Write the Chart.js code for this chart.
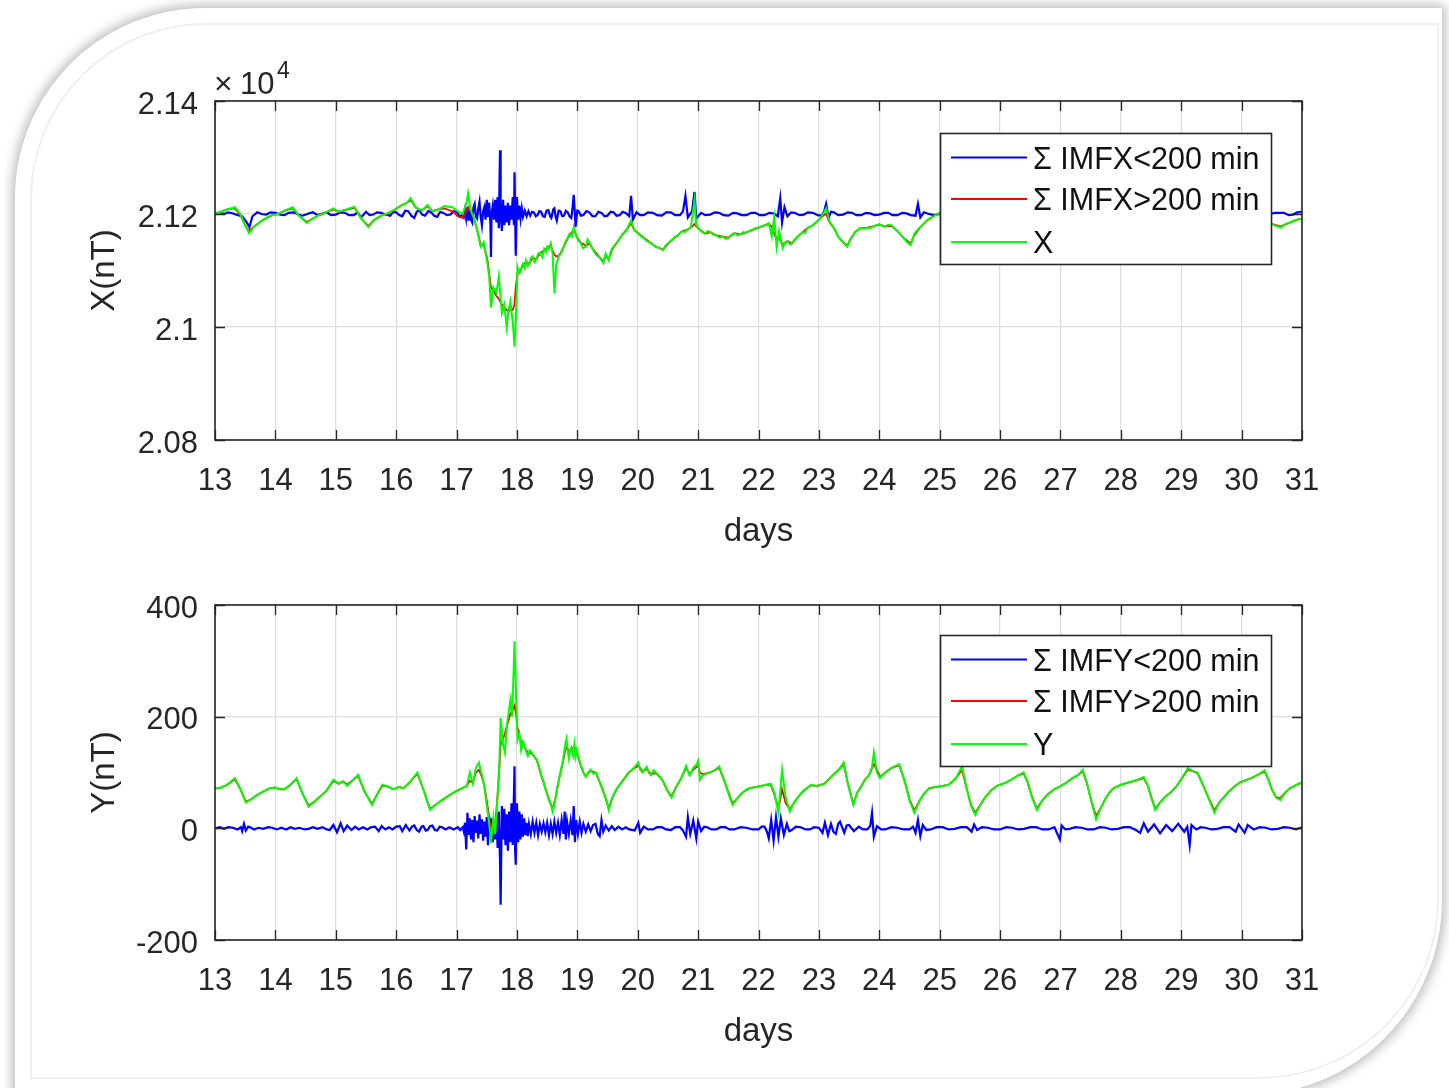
<!DOCTYPE html>
<html><head><meta charset="utf-8">
<script src="https://cdn.jsdelivr.net/npm/chart.js@4.4.1/dist/chart.umd.min.js"></script>
<style>
html,body{margin:0;padding:0;background:#fff;width:1449px;height:1088px;overflow:hidden;}
#card{position:absolute;left:15px;top:8px;width:1427px;height:1087px;background:#fff;border-radius:190px 0 195px 0;box-shadow:0 0 12px 3px rgba(0,0,0,0.28);}
#inner{position:absolute;left:30px;top:23px;width:1405px;height:1052px;border:2px solid #efefef;border-radius:176px 0 180px 0;}
canvas{position:absolute;left:0;}
</style></head><body>
<div id="card"></div><div id="inner"></div>
<canvas id="c1" width="1449" height="560" style="top:0px"></canvas>
<canvas id="c2" width="1449" height="500" style="top:560px"></canvas>
<script>
// ---- tick values / labels ----
const xTickValues = [13,14,15,16,17,18,19,20,21,22,23,24,25,26,27,28,29,30,31];
const xTickLabels = ['13','14','15','16','17','18','19','20','21','22','23','24','25','26','27','28','29','30','31'];
const yTickValuesX = [20800,21000,21200,21400];
const yTickLabelsX = ['2.08','2.1','2.12','2.14'];
const yTickValuesY = [-200,0,200,400];
const yTickLabelsY = ['-200','0','200','400'];
const legendLabelsX = ['\u03A3 IMFX<200 min','\u03A3 IMFX>200 min','X'];
const legendLabelsY = ['\u03A3 IMFY<200 min','\u03A3 IMFY>200 min','Y'];

// ---- series: [day, value] ----
const xGreen = [[13.00,21200],[13.10,21204],[13.20,21208],[13.33,21212],[13.42,21200],[13.50,21180],[13.565,21166],[13.65,21178],[13.75,21186],[13.85,21193],[13.95,21198],[14.05,21200],[14.15,21206],[14.29,21212],[14.38,21198],[14.52,21184],[14.62,21192],[14.72,21198],[14.82,21202],[14.96,21210],[15.05,21204],[15.15,21207],[15.31,21213],[15.42,21192],[15.54,21177],[15.64,21190],[15.77,21198],[15.88,21202],[15.98,21208],[16.08,21215],[16.18,21220],[16.24,21228],[16.32,21212],[16.42,21206],[16.52,21216],[16.60,21205],[16.70,21208],[16.80,21214],[16.93,21212],[17.02,21205],[17.10,21200],[17.16,21218],[17.19,21237],[17.23,21208],[17.28,21195],[17.34,21172],[17.40,21142],[17.45,21150],[17.51,21113],[17.54,21090],[17.57,21035],[17.61,21070],[17.66,21060],[17.70,21090],[17.75,21025],[17.79,21040],[17.83,21000],[17.86,21030],[17.89,21045],[17.93,21010],[17.96,20965],[17.98,21010],[18.01,21106],[18.04,21095],[18.06,21098],[18.08,21108],[18.10,21112],[18.13,21104],[18.15,21118],[18.18,21108],[18.20,21110],[18.23,21122],[18.26,21125],[18.29,21115],[18.32,21120],[18.35,21130],[18.38,21132],[18.42,21124],[18.45,21138],[18.48,21132],[18.50,21142],[18.53,21138],[18.56,21148],[18.59,21130],[18.62,21060],[18.65,21110],[18.69,21125],[18.73,21130],[18.77,21142],[18.80,21150],[18.84,21158],[18.87,21165],[18.91,21160],[18.94,21177],[18.99,21160],[19.02,21152],[19.05,21150],[19.09,21140],[19.14,21142],[19.17,21155],[19.20,21150],[19.24,21140],[19.27,21135],[19.31,21128],[19.35,21125],[19.39,21120],[19.43,21113],[19.47,21130],[19.52,21118],[19.55,21132],[19.58,21140],[19.62,21145],[19.66,21150],[19.71,21158],[19.75,21165],[19.79,21168],[19.83,21175],[19.89,21189],[19.94,21172],[19.98,21168],[20.02,21165],[20.06,21160],[20.10,21158],[20.15,21152],[20.20,21150],[20.25,21146],[20.30,21142],[20.36,21140],[20.42,21136],[20.46,21144],[20.50,21148],[20.54,21152],[20.58,21155],[20.62,21160],[20.66,21162],[20.70,21166],[20.74,21170],[20.78,21168],[20.82,21172],[20.88,21177],[20.94,21224],[20.97,21180],[21.00,21176],[21.03,21172],[21.07,21168],[21.12,21165],[21.16,21170],[21.20,21168],[21.25,21164],[21.30,21162],[21.36,21158],[21.41,21160],[21.46,21156],[21.50,21158],[21.55,21163],[21.60,21166],[21.65,21162],[21.70,21164],[21.75,21168],[21.79,21167],[21.85,21170],[21.90,21172],[21.95,21175],[22.00,21176],[22.05,21178],[22.10,21180],[22.17,21184],[22.22,21160],[22.26,21195],[22.30,21142],[22.34,21170],[22.40,21140],[22.44,21150],[22.48,21152],[22.52,21146],[22.55,21148],[22.60,21155],[22.65,21160],[22.73,21168],[22.77,21166],[22.81,21175],[22.86,21178],[22.90,21180],[22.95,21185],[23.00,21190],[23.04,21196],[23.08,21202],[23.12,21210],[23.18,21185],[23.25,21175],[23.32,21160],[23.40,21150],[23.47,21142],[23.52,21155],[23.56,21162],[23.60,21168],[23.65,21172],[23.69,21175],[23.75,21174],[23.80,21176],[23.85,21175],[23.90,21178],[24.00,21182],[24.05,21179],[24.10,21178],[24.15,21181],[24.20,21180],[24.30,21170],[24.40,21158],[24.46,21150],[24.52,21145],[24.58,21165],[24.62,21170],[24.66,21175],[24.71,21180],[24.76,21186],[24.80,21190],[24.85,21193],[24.90,21196],[24.96,21200],[25.10,21208],[25.25,21204],[25.40,21190],[25.55,21175],[25.70,21192],[25.85,21205],[26.00,21210],[26.20,21206],[26.40,21195],[26.55,21180],[26.70,21195],[26.90,21205],[27.10,21212],[27.30,21205],[27.45,21190],[27.60,21175],[27.75,21195],[27.95,21205],[28.15,21210],[28.35,21200],[28.50,21185],[28.65,21178],[28.80,21195],[29.00,21205],[29.20,21210],[29.40,21195],[29.55,21178],[29.70,21190],[29.90,21200],[30.10,21205],[30.30,21195],[30.45,21185],[30.54,21180],[30.65,21176],[30.72,21182],[30.80,21185],[30.86,21188],[30.92,21190],[31.00,21192]];

const xRed = [[13.00,21200],[13.10,21204],[13.20,21208],[13.33,21210],[13.42,21198],[13.50,21180],[13.565,21170],[13.65,21178],[13.75,21186],[13.85,21193],[13.95,21198],[14.05,21200],[14.15,21206],[14.29,21210],[14.38,21198],[14.52,21186],[14.62,21192],[14.72,21198],[14.82,21202],[14.96,21208],[15.05,21204],[15.15,21207],[15.31,21211],[15.42,21192],[15.54,21179],[15.64,21190],[15.77,21198],[15.88,21202],[15.98,21208],[16.08,21215],[16.18,21220],[16.24,21225],[16.32,21212],[16.42,21206],[16.52,21214],[16.60,21205],[16.70,21208],[16.80,21210],[16.93,21205],[17.02,21196],[17.10,21193],[17.16,21205],[17.19,21212],[17.23,21205],[17.28,21195],[17.34,21172],[17.40,21145],[17.45,21145],[17.51,21120],[17.54,21095],[17.57,21070],[17.61,21065],[17.66,21055],[17.70,21050],[17.75,21040],[17.79,21035],[17.83,21030],[17.86,21028],[17.89,21030],[17.93,21030],[17.96,21040],[17.98,21070],[18.01,21095],[18.06,21100],[18.10,21110],[18.15,21115],[18.20,21112],[18.26,21122],[18.32,21120],[18.38,21130],[18.45,21136],[18.50,21140],[18.56,21145],[18.59,21135],[18.62,21128],[18.65,21125],[18.69,21126],[18.73,21132],[18.80,21148],[18.87,21162],[18.94,21172],[18.99,21160],[19.05,21150],[19.14,21144],[19.20,21148],[19.27,21136],[19.35,21126],[19.43,21116],[19.47,21125],[19.52,21120],[19.58,21138],[19.66,21150],[19.75,21164],[19.83,21174],[19.89,21184],[19.94,21172],[20.02,21165],[20.10,21158],[20.20,21150],[20.30,21142],[20.42,21137],[20.50,21147],[20.58,21155],[20.66,21162],[20.74,21170],[20.82,21172],[20.88,21176],[20.94,21182],[20.97,21178],[21.03,21172],[21.12,21165],[21.20,21168],[21.30,21162],[21.41,21160],[21.50,21158],[21.60,21166],[21.70,21164],[21.79,21167],[21.90,21172],[22.00,21176],[22.10,21180],[22.17,21182],[22.22,21178],[22.26,21165],[22.30,21155],[22.34,21158],[22.40,21146],[22.48,21152],[22.55,21148],[22.65,21160],[22.73,21168],[22.81,21175],[22.90,21180],[23.00,21190],[23.08,21198],[23.12,21200],[23.18,21185],[23.25,21175],[23.32,21160],[23.40,21150],[23.47,21144],[23.52,21155],[23.60,21168],[23.69,21175],[23.80,21176],[23.90,21178],[24.00,21181],[24.10,21178],[24.20,21179],[24.30,21170],[24.40,21158],[24.52,21148],[24.58,21162],[24.66,21174],[24.71,21180],[24.80,21189],[24.90,21196],[24.96,21200],[25.10,21207],[25.25,21204],[25.40,21190],[25.55,21177],[25.70,21192],[25.85,21205],[26.00,21209],[26.20,21206],[26.40,21195],[26.55,21182],[26.70,21195],[26.90,21205],[27.10,21211],[27.30,21205],[27.45,21190],[27.60,21177],[27.75,21195],[27.95,21205],[28.15,21209],[28.35,21200],[28.50,21185],[28.65,21180],[28.80,21195],[29.00,21205],[29.20,21209],[29.40,21195],[29.55,21180],[29.70,21190],[29.90,21200],[30.10,21204],[30.30,21195],[30.45,21185],[30.54,21181],[30.65,21178],[30.80,21185],[30.92,21190],[31.00,21192]];

const xBlue = [[13.00,21200],[13.08,21203],[13.15,21200],[13.22,21203],[13.30,21201],[13.38,21198],[13.45,21196],[13.52,21186],[13.57,21177],[13.62,21196],[13.70,21203],[13.77,21200],[13.85,21199],[13.92,21203],[14.00,21202],[14.08,21199],[14.15,21198],[14.22,21202],[14.30,21203],[14.38,21199],[14.45,21197],[14.55,21201],[14.62,21203],[14.70,21198],[14.78,21201],[14.85,21203],[14.92,21198],[15.00,21199],[15.08,21203],[15.15,21202],[15.22,21198],[15.30,21198],[15.36,21203],[15.42,21194],[15.50,21204],[15.56,21198],[15.62,21199],[15.68,21203],[15.75,21202],[15.82,21199],[15.90,21197],[15.95,21204],[16.00,21203],[16.05,21198],[16.10,21196],[16.15,21206],[16.20,21205],[16.25,21197],[16.30,21193],[16.34,21204],[16.38,21207],[16.43,21199],[16.48,21197],[16.53,21205],[16.58,21203],[16.63,21197],[16.68,21195],[16.73,21204],[16.78,21202],[16.84,21198],[16.90,21199],[16.95,21205],[17.00,21204],[17.05,21196],[17.08,21197],[17.10,21200],[17.12,21195],[17.14,21208],[17.16,21192],[17.18,21212],[17.20,21188],[17.22,21215],[17.24,21190],[17.26,21185],[17.28,21212],[17.30,21218],[17.32,21195],[17.34,21192],[17.36,21210],[17.38,21222],[17.40,21195],[17.42,21180],[17.44,21205],[17.46,21212],[17.48,21190],[17.50,21225],[17.52,21195],[17.54,21220],[17.56,21185],[17.57,21124],[17.58,21200],[17.60,21215],[17.62,21190],[17.64,21225],[17.66,21185],[17.68,21230],[17.70,21175],[17.71,21250],[17.72,21313],[17.73,21200],[17.75,21170],[17.77,21225],[17.79,21180],[17.81,21215],[17.83,21185],[17.85,21220],[17.87,21180],[17.89,21215],[17.91,21190],[17.93,21230],[17.95,21180],[17.96,21274],[17.97,21200],[17.98,21126],[18.00,21230],[18.02,21190],[18.04,21215],[18.06,21192],[18.08,21210],[18.10,21195],[18.13,21206],[18.16,21196],[18.19,21205],[18.22,21197],[18.25,21204],[18.28,21203],[18.31,21196],[18.34,21198],[18.37,21205],[18.40,21204],[18.43,21196],[18.46,21195],[18.49,21206],[18.52,21207],[18.55,21196],[18.57,21193],[18.60,21208],[18.62,21210],[18.64,21195],[18.66,21188],[18.69,21206],[18.72,21205],[18.75,21196],[18.78,21197],[18.81,21206],[18.84,21203],[18.87,21196],[18.90,21193],[18.92,21210],[18.94,21234],[18.96,21200],[18.97,21177],[19.00,21206],[19.02,21205],[19.06,21197],[19.10,21198],[19.15,21205],[19.20,21203],[19.25,21196],[19.30,21196],[19.35,21204],[19.40,21202],[19.45,21196],[19.50,21197],[19.55,21204],[19.60,21203],[19.65,21197],[19.70,21198],[19.75,21204],[19.80,21202],[19.86,21196],[19.89,21232],[19.92,21190],[19.98,21203],[20.04,21198],[20.10,21198],[20.17,21203],[20.25,21202],[20.32,21198],[20.40,21197],[20.47,21203],[20.55,21203],[20.62,21198],[20.70,21198],[20.75,21205],[20.79,21232],[20.83,21194],[20.90,21205],[20.94,21239],[20.97,21192],[21.05,21202],[21.12,21198],[21.20,21199],[21.28,21203],[21.35,21202],[21.42,21198],[21.50,21197],[21.58,21202],[21.65,21201],[21.72,21198],[21.80,21198],[21.88,21202],[21.95,21202],[22.02,21198],[22.10,21198],[22.18,21202],[22.25,21201],[22.32,21196],[22.36,21228],[22.39,21185],[22.43,21212],[22.48,21196],[22.54,21203],[22.60,21202],[22.68,21198],[22.75,21199],[22.82,21203],[22.90,21202],[22.98,21198],[23.05,21197],[23.09,21206],[23.12,21218],[23.16,21193],[23.20,21204],[23.25,21203],[23.32,21198],[23.40,21199],[23.48,21203],[23.55,21202],[23.62,21198],[23.70,21198],[23.78,21202],[23.85,21201],[23.92,21198],[24.00,21199],[24.08,21202],[24.15,21202],[24.22,21198],[24.30,21198],[24.38,21202],[24.45,21201],[24.52,21198],[24.60,21197],[24.64,21218],[24.68,21194],[24.74,21203],[24.80,21201],[24.90,21198],[25.00,21200],[25.30,21202],[25.60,21199],[25.90,21202],[26.20,21198],[26.50,21201],[26.80,21199],[27.10,21202],[27.40,21198],[27.70,21201],[28.00,21199],[28.30,21202],[28.60,21198],[28.90,21201],[29.20,21199],[29.50,21202],[29.80,21198],[30.10,21201],[30.40,21199],[30.55,21202],[30.70,21202],[30.78,21198],[30.85,21199],[30.92,21203],[31.00,21204]];

const yGreen = [[13.00,72],[13.10,73],[13.20,78],[13.33,90],[13.42,70],[13.51,46],[13.60,52],[13.70,60],[13.80,66],[13.91,72],[14.00,73],[14.08,70],[14.15,70],[14.25,78],[14.35,90],[14.45,62],[14.55,39],[14.65,48],[14.75,58],[14.85,68],[14.96,87],[15.05,80],[15.12,84],[15.19,76],[15.28,86],[15.37,96],[15.48,65],[15.60,42],[15.68,60],[15.77,78],[15.86,75],[15.95,70],[16.05,74],[16.12,72],[16.22,82],[16.35,100],[16.45,70],[16.56,33],[16.65,42],[16.75,50],[16.82,55],[16.92,62],[17.02,68],[17.10,72],[17.17,76],[17.22,100],[17.27,80],[17.32,108],[17.37,118],[17.42,95],[17.46,76],[17.50,40],[17.54,10],[17.57,-26],[17.61,20],[17.64,-10],[17.68,60],[17.71,120],[17.73,198],[17.77,150],[17.80,136],[17.84,190],[17.89,230],[17.92,200],[17.96,335],[17.99,220],[18.01,159],[18.04,170],[18.07,140],[18.10,155],[18.12,150],[18.15,138],[18.18,130],[18.21,140],[18.25,135],[18.29,128],[18.33,123],[18.37,108],[18.40,95],[18.44,85],[18.47,70],[18.50,62],[18.53,50],[18.56,45],[18.59,30],[18.62,42],[18.64,55],[18.67,75],[18.70,90],[18.73,105],[18.76,120],[18.78,135],[18.80,150],[18.82,160],[18.84,140],[18.86,125],[18.88,140],[18.90,145],[18.93,130],[18.95,150],[18.97,128],[18.99,140],[19.02,125],[19.05,115],[19.08,108],[19.10,100],[19.14,92],[19.18,100],[19.22,105],[19.26,98],[19.31,100],[19.35,88],[19.38,80],[19.42,70],[19.45,60],[19.49,48],[19.52,33],[19.55,45],[19.58,55],[19.62,65],[19.66,72],[19.70,78],[19.75,85],[19.80,92],[19.85,100],[19.90,104],[19.95,110],[20.01,118],[20.04,105],[20.08,100],[20.12,106],[20.15,110],[20.18,100],[20.22,95],[20.26,104],[20.30,100],[20.35,94],[20.40,88],[20.44,80],[20.48,70],[20.52,62],[20.56,55],[20.60,65],[20.64,75],[20.68,82],[20.72,90],[20.76,100],[20.80,112],[20.83,102],[20.86,95],[20.90,104],[20.93,110],[20.97,114],[21.00,121],[21.03,87],[21.06,92],[21.08,95],[21.14,98],[21.20,100],[21.27,104],[21.35,111],[21.40,95],[21.45,80],[21.51,60],[21.57,42],[21.62,50],[21.66,55],[21.70,60],[21.75,65],[21.80,70],[21.85,72],[21.95,74],[22.05,76],[22.12,78],[22.20,80],[22.26,65],[22.33,28],[22.39,105],[22.45,55],[22.52,30],[22.56,40],[22.60,48],[22.65,55],[22.70,62],[22.75,68],[22.80,72],[22.87,78],[22.97,76],[23.09,80],[23.14,85],[23.18,90],[23.23,95],[23.28,100],[23.35,108],[23.41,118],[23.48,80],[23.57,42],[23.64,65],[23.70,75],[23.76,87],[23.83,95],[23.88,110],[23.91,136],[23.96,100],[24.01,90],[24.06,96],[24.10,100],[24.15,104],[24.20,108],[24.27,112],[24.33,115],[24.42,85],[24.50,50],[24.58,28],[24.66,48],[24.74,62],[24.83,72],[24.93,74],[25.05,76],[25.15,78],[25.27,90],[25.37,111],[25.45,70],[25.52,40],[25.59,24],[25.66,40],[25.75,55],[25.85,68],[25.95,76],[26.10,82],[26.20,88],[26.30,95],[26.39,100],[26.45,85],[26.53,55],[26.61,33],[26.70,50],[26.80,62],[26.90,70],[26.99,75],[27.10,82],[27.20,90],[27.30,96],[27.37,105],[27.44,80],[27.52,45],[27.59,16],[27.66,35],[27.74,52],[27.81,64],[27.88,72],[28.00,78],[28.12,82],[28.25,86],[28.38,92],[28.45,75],[28.52,50],[28.57,33],[28.64,45],[28.72,55],[28.83,65],[28.92,75],[29.00,88],[29.11,108],[29.20,102],[29.27,100],[29.36,78],[29.46,52],[29.55,28],[29.62,45],[29.70,55],[29.78,65],[29.88,75],[29.97,82],[30.06,86],[30.16,90],[30.27,96],[30.38,104],[30.44,88],[30.50,70],[30.57,55],[30.64,51],[30.72,64],[30.80,72],[30.88,76],[30.95,80],[31.00,82]];

const yRed = [[13.00,72],[13.10,73],[13.20,78],[13.33,88],[13.42,70],[13.51,48],[13.60,52],[13.70,60],[13.80,66],[13.91,72],[14.00,73],[14.08,70],[14.15,70],[14.25,78],[14.35,88],[14.45,62],[14.55,41],[14.65,48],[14.75,58],[14.85,68],[14.96,85],[15.05,80],[15.12,84],[15.19,78],[15.28,86],[15.37,94],[15.48,65],[15.60,44],[15.68,60],[15.77,76],[15.86,75],[15.95,70],[16.05,74],[16.12,72],[16.22,82],[16.35,98],[16.45,70],[16.56,35],[16.65,42],[16.75,50],[16.82,55],[16.92,62],[17.02,68],[17.10,72],[17.17,76],[17.22,85],[17.27,82],[17.32,100],[17.37,105],[17.42,92],[17.46,76],[17.50,50],[17.54,20],[17.57,-5],[17.61,10],[17.64,5],[17.68,60],[17.71,110],[17.73,150],[17.77,160],[17.80,170],[17.84,185],[17.89,205],[17.92,210],[17.96,220],[17.99,200],[18.01,180],[18.04,165],[18.07,155],[18.12,148],[18.18,135],[18.25,134],[18.33,122],[18.40,96],[18.47,72],[18.53,52],[18.59,34],[18.64,55],[18.70,90],[18.76,118],[18.80,140],[18.82,145],[18.86,138],[18.90,142],[18.95,145],[18.99,138],[19.05,115],[19.10,100],[19.14,94],[19.22,103],[19.31,99],[19.38,80],[19.45,60],[19.52,36],[19.58,55],[19.66,72],[19.75,85],[19.85,100],[19.95,108],[20.01,112],[20.08,102],[20.15,106],[20.22,97],[20.30,99],[20.40,88],[20.48,70],[20.56,57],[20.64,75],[20.72,90],[20.80,108],[20.86,98],[20.93,106],[21.00,112],[21.03,100],[21.08,97],[21.20,100],[21.35,108],[21.45,80],[21.57,45],[21.66,55],[21.75,65],[21.85,72],[21.95,74],[22.05,76],[22.12,78],[22.20,78],[22.26,62],[22.33,35],[22.39,70],[22.45,45],[22.52,34],[22.60,48],[22.70,62],[22.80,72],[22.87,77],[22.97,76],[23.09,80],[23.18,90],[23.28,100],[23.35,107],[23.41,115],[23.48,80],[23.57,45],[23.64,65],[23.70,75],[23.76,87],[23.83,95],[23.91,115],[23.96,105],[24.01,92],[24.10,100],[24.20,108],[24.33,113],[24.42,85],[24.50,52],[24.58,32],[24.66,48],[24.74,62],[24.83,72],[24.93,74],[25.05,76],[25.15,78],[25.27,90],[25.37,105],[25.45,70],[25.52,42],[25.59,28],[25.66,40],[25.75,55],[25.85,68],[25.95,76],[26.10,82],[26.20,88],[26.30,95],[26.39,98],[26.45,85],[26.53,56],[26.61,36],[26.70,50],[26.80,62],[26.90,70],[26.99,75],[27.10,82],[27.20,90],[27.30,96],[27.37,102],[27.44,80],[27.52,46],[27.59,22],[27.66,35],[27.74,52],[27.81,64],[27.88,72],[28.00,78],[28.12,82],[28.25,86],[28.38,90],[28.45,75],[28.52,51],[28.57,36],[28.64,45],[28.72,55],[28.83,65],[28.92,75],[29.00,88],[29.11,105],[29.20,102],[29.27,99],[29.36,78],[29.46,53],[29.55,32],[29.62,45],[29.70,55],[29.78,65],[29.88,75],[29.97,82],[30.06,86],[30.16,90],[30.27,96],[30.38,102],[30.44,88],[30.50,70],[30.57,56],[30.64,54],[30.72,64],[30.80,72],[30.88,76],[30.95,80],[31.00,81]];

const yBlue = [[13.00,0],[13.08,2],[13.15,-1],[13.22,2],[13.30,1],[13.37,-2],[13.43,2],[13.45,-5],[13.48,8],[13.51,-4],[13.55,3],[13.58,2],[13.65,-2],[13.72,1],[13.80,-1],[13.88,2],[13.95,1],[14.02,-2],[14.10,1],[14.18,-2],[14.25,2],[14.32,-1],[14.40,1],[14.48,-2],[14.55,-1],[14.62,2],[14.70,-1],[14.78,2],[14.85,-2],[14.90,-3],[14.96,6],[15.02,-7],[15.08,9],[15.13,-5],[15.19,5],[15.26,-3],[15.32,3],[15.38,-2],[15.45,2],[15.52,-2],[15.58,2],[15.65,3],[15.71,-5],[15.76,4],[15.82,-2],[15.88,2],[15.94,-2],[16.00,3],[16.06,4],[16.10,-5],[16.16,6],[16.22,-4],[16.26,3],[16.30,5],[16.34,-3],[16.38,-6],[16.42,3],[16.45,4],[16.49,-4],[16.52,-3],[16.56,4],[16.60,5],[16.64,-3],[16.68,-4],[16.72,3],[16.76,2],[16.82,-2],[16.88,2],[16.95,-2],[17.02,2],[17.06,-3],[17.10,2],[17.12,-6],[17.14,10],[17.16,-38],[17.18,28],[17.20,-12],[17.22,18],[17.24,-20],[17.26,15],[17.28,-25],[17.30,22],[17.32,-8],[17.34,14],[17.36,-18],[17.38,25],[17.40,-10],[17.42,16],[17.44,-22],[17.46,12],[17.48,-15],[17.50,20],[17.52,-30],[17.54,22],[17.56,-12],[17.58,18],[17.60,-25],[17.62,15],[17.64,-20],[17.66,28],[17.68,-35],[17.70,30],[17.72,-60],[17.73,-137],[17.75,40],[17.77,-20],[17.79,35],[17.81,-30],[17.83,25],[17.85,-40],[17.87,30],[17.89,-25],[17.91,45],[17.93,-30],[17.95,60],[17.96,111],[17.97,-40],[17.98,-65],[18.00,45],[18.02,-25],[18.04,30],[18.06,-20],[18.08,25],[18.10,-15],[18.12,18],[18.14,-12],[18.16,10],[18.18,-14],[18.20,8],[18.23,-10],[18.26,12],[18.29,-8],[18.32,10],[18.35,-12],[18.38,8],[18.41,-6],[18.44,9],[18.47,-7],[18.50,10],[18.53,-12],[18.56,8],[18.59,-10],[18.62,12],[18.65,-8],[18.68,10],[18.71,-12],[18.74,15],[18.77,-10],[18.79,30],[18.81,-20],[18.83,12],[18.86,-10],[18.89,14],[18.92,-12],[18.94,40],[18.96,-25],[18.98,15],[19.01,-10],[19.04,12],[19.07,-8],[19.10,8],[19.14,-6],[19.18,7],[19.22,-5],[19.26,6],[19.30,8],[19.34,-10],[19.37,-14],[19.40,15],[19.43,-6],[19.47,5],[19.52,-4],[19.57,4],[19.62,-3],[19.68,3],[19.74,-2],[19.80,2],[19.86,-2],[19.95,-4],[20.01,10],[20.04,-8],[20.10,3],[20.17,-2],[20.25,-2],[20.32,2],[20.40,2],[20.47,-2],[20.55,-3],[20.62,2],[20.70,2],[20.75,-4],[20.80,-15],[20.83,20],[20.87,-10],[20.92,14],[20.97,-18],[21.00,12],[21.05,-5],[21.10,3],[21.15,2],[21.22,-2],[21.30,-2],[21.37,2],[21.45,2],[21.52,-2],[21.60,-2],[21.70,2],[21.80,1],[21.90,-2],[22.00,-2],[22.05,3],[22.10,3],[22.14,-6],[22.17,-18],[22.21,15],[22.25,-22],[22.29,20],[22.33,-15],[22.37,18],[22.42,-12],[22.47,8],[22.51,-5],[22.55,-3],[22.62,3],[22.70,2],[22.78,-2],[22.85,-2],[22.92,2],[23.00,1],[23.06,-8],[23.10,10],[23.15,-12],[23.20,8],[23.24,-6],[23.28,-10],[23.32,8],[23.35,12],[23.42,-8],[23.46,5],[23.50,6],[23.58,-5],[23.66,3],[23.73,-2],[23.80,-2],[23.85,4],[23.88,28],[23.91,-15],[23.96,4],[24.03,-2],[24.10,-2],[24.20,2],[24.30,1],[24.40,-2],[24.50,-2],[24.56,3],[24.60,-8],[24.64,15],[24.68,-14],[24.72,6],[24.78,-3],[24.85,-2],[24.95,2],[25.05,2],[25.15,-2],[25.25,-1],[25.35,2],[25.45,2],[25.53,-6],[25.57,7],[25.62,-3],[25.70,2],[25.80,1],[25.90,-2],[26.00,-2],[26.10,2],[26.20,1],[26.30,-2],[26.40,-1],[26.50,2],[26.60,2],[26.70,-2],[26.80,-2],[26.90,2],[26.99,-20],[27.02,5],[27.08,-2],[27.15,-1],[27.25,2],[27.35,1],[27.45,-2],[27.55,-2],[27.65,2],[27.75,1],[27.85,-2],[27.95,-1],[28.05,2],[28.15,2],[28.25,-3],[28.32,-8],[28.38,9],[28.45,-6],[28.55,7],[28.65,-9],[28.75,6],[28.85,-5],[28.95,8],[29.05,-6],[29.10,3],[29.14,-30],[29.17,6],[29.25,-2],[29.32,2],[29.40,1],[29.50,-2],[29.60,-1],[29.70,2],[29.80,2],[29.90,-6],[29.95,7],[30.05,-8],[30.10,6],[30.20,-2],[30.30,2],[30.40,1],[30.50,-2],[30.60,-1],[30.70,2],[30.80,1],[30.90,-2],[31.00,2]];

// ---- rendering ----
const FONT = "'Liberation Sans', Arial, Helvetica, sans-serif";
const INK = '#262626';
Chart.defaults.font.family = FONT;
Chart.defaults.color = INK;

const toPts = arr => arr.map(p => ({x: p[0], y: p[1]}));

const matlabAxes = {
  id: 'matlabAxes',
  afterDatasetsDraw(chart, args, opts) {
    const ctx = chart.ctx;
    const {left, right, top, bottom} = chart.chartArea;
    const xs = chart.scales.x, ys = chart.scales.y;
    ctx.save();
    ctx.strokeStyle = INK; ctx.lineWidth = 1.3;
    ctx.beginPath();
    opts.xTicks.forEach(v => {
      const px = Math.round(xs.getPixelForValue(v)) + 0.5;
      ctx.moveTo(px, bottom); ctx.lineTo(px, bottom - 10);
      ctx.moveTo(px, top); ctx.lineTo(px, top + 10);
    });
    opts.yTicks.forEach(v => {
      const py = Math.round(ys.getPixelForValue(v)) + 0.5;
      ctx.moveTo(left, py); ctx.lineTo(left + 10, py);
      ctx.moveTo(right, py); ctx.lineTo(right - 10, py);
    });
    ctx.stroke();
    // legend
    const lx = left + opts.legendDx, ly = top + opts.legendDy, lw = 331, lh = 131;
    ctx.fillStyle = '#fff';
    ctx.fillRect(lx, ly, lw, lh);
    ctx.lineWidth = 1.6; ctx.strokeStyle = INK;
    ctx.strokeRect(lx + 0.5, ly + 0.5, lw, lh);
    const rows = [24.5, 66, 109];
    const cols = ['#0000ff', '#ff0000', '#00ff00'];
    ctx.font = '30.5px ' + FONT;
    ctx.textBaseline = 'middle'; ctx.textAlign = 'left';
    rows.forEach((dy, i) => {
      ctx.strokeStyle = cols[i]; ctx.lineWidth = 2;
      ctx.beginPath(); ctx.moveTo(lx + 11, ly + dy); ctx.lineTo(lx + 87, ly + dy); ctx.stroke();
      ctx.fillStyle = '#111';
      ctx.fillText(opts.legend[i], lx + 93, ly + dy + 3);
    });
    // axes box
    ctx.strokeStyle = INK; ctx.lineWidth = 1.6;
    ctx.strokeRect(left, top, right - left, bottom - top);
    // exponent
    if (opts.exponent) {
      ctx.fillStyle = INK; ctx.textBaseline = 'alphabetic';
      ctx.font = '32px ' + FONT; ctx.fillText('\u00D7', 214, 94);
      ctx.font = '31px ' + FONT; ctx.fillText('10', 240, 94);
      ctx.font = '23px ' + FONT; ctx.fillText('4', 277, 78);
    }
    ctx.restore();
  }
};

function makeChart(id, series, yMin, yMax, yTicks, yLabels, yTitle, padTop, legend, exponent) {
  const colors = ['#00ff00', '#ff0000', '#0000ff'];
  const widths = [2, 1.8, 2.2];
  return new Chart(document.getElementById(id), {
    type: 'line',
    data: {
      datasets: series.map((s, i) => ({
        data: toPts(s), borderColor: colors[i], borderWidth: widths[i],
        pointRadius: 0, tension: 0, fill: false
      }))
    },
    options: {
      responsive: false, animation: false, devicePixelRatio: 1,
      layout: {padding: {left: 0, right: 147, top: padTop, bottom: 0}},
      plugins: {legend: {display: false}, tooltip: {enabled: false},
        matlabAxes: {xTicks: xTickValues, yTicks: yTicks, legend: legend, exponent: exponent,
          legendDx: 725, legendDy: padTop > 60 ? 32 : 30}},
      scales: {
        x: {
          type: 'linear', min: 13, max: 31,
          afterBuildTicks: sc => { sc.ticks = xTickValues.map(v => ({value: v})); },
          afterFit: sc => { sc.height = 120; },
          grid: {color: '#dddddd', lineWidth: 1.2, drawTicks: false},
          border: {display: false},
          ticks: {autoSkip: false, maxRotation: 0, padding: 23, font: {size: 31}, color: INK,
            callback: v => { const i = xTickValues.indexOf(v); return i >= 0 ? xTickLabels[i] : ''; }},
          title: {display: true, text: 'days', font: {size: 33}, color: INK, padding: {top: 0, bottom: 8}}
        },
        y: {
          type: 'linear', min: yMin, max: yMax,
          afterBuildTicks: sc => { sc.ticks = yTicks.map(v => ({value: v})); },
          afterFit: sc => { sc.width = 215; },
          grid: {color: '#dddddd', lineWidth: 1.2, drawTicks: false},
          border: {display: false},
          ticks: {padding: 17, labelOffset: 4, font: {size: 31}, color: INK,
            callback: v => { const i = yTicks.indexOf(v); return i >= 0 ? yLabels[i] : ''; }},
          title: {display: true, text: yTitle, font: {size: 33}, color: INK, padding: {top: 85, bottom: 0}}
        }
      }
    },
    plugins: [matlabAxes]
  });
}

makeChart('c1', [xGreen, xRed, xBlue], 20800, 21400, yTickValuesX, yTickLabelsX, 'X(nT)', 101, legendLabelsX, true);
makeChart('c2', [yGreen, yRed, yBlue], -200, 400, yTickValuesY, yTickLabelsY, 'Y(nT)', 45, legendLabelsY, false);
</script>
</body></html>
